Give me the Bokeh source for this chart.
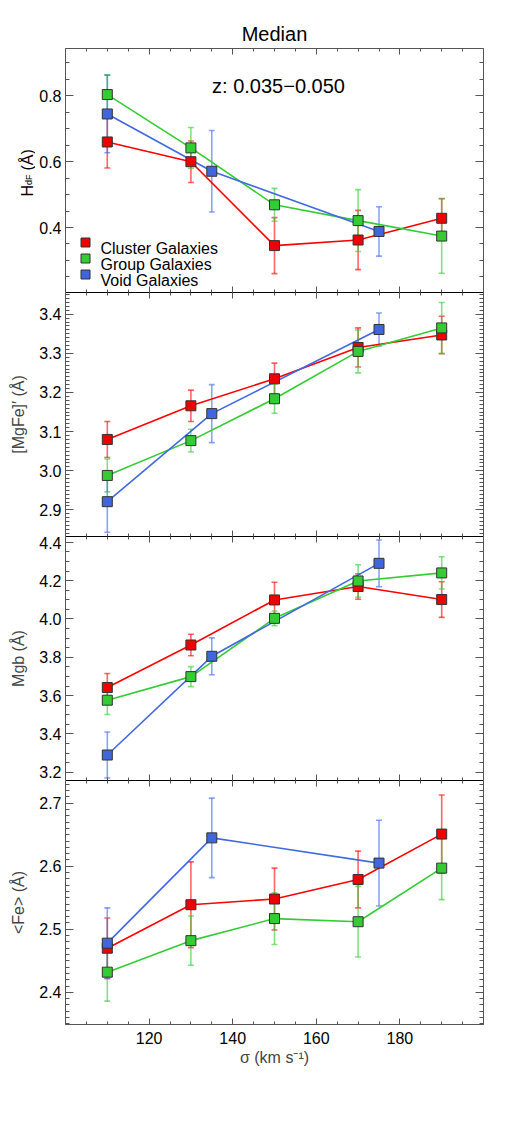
import numpy as np
from math import pi

from bokeh.plotting import figure
from bokeh.models import (ColumnDataSource, Whisker, TeeHead, FixedTicker, LinearAxis,
                          Label, BoxAnnotation, Range1d, PrintfTickFormatter,
                          CustomJSTickFormatter)
from bokeh.layouts import column, row
from bokeh.embed import file_html
from bokeh.resources import INLINE

# ---- data: velocity dispersion bins (km/s) ----
sigma_bins = [110, 130, 150, 170, 190]
sigma_void = [110, 135, 175]

# H_dF index (Å)
hdf_cluster = [0.660, 0.600, 0.345, 0.362, 0.428]
hdf_cluster_err = [0.079, 0.063, 0.085, 0.090, 0.060]
hdf_group = [0.804, 0.642, 0.469, 0.421, 0.374]
hdf_group_err = [0.060, 0.062, 0.050, 0.094, 0.113]
hdf_void = [0.745, 0.571, 0.388]
hdf_void_err = [0.118, 0.124, 0.075]

# [MgFe]' index (Å)
mgfe_cluster = [3.080, 3.166, 3.235, 3.315, 3.347]
mgfe_cluster_err = [0.046, 0.040, 0.040, 0.050, 0.048]
mgfe_group = [2.988, 3.077, 3.184, 3.305, 3.365]
mgfe_group_err = [0.042, 0.029, 0.037, 0.055, 0.065]
mgfe_void = [2.921, 3.146, 3.361]
mgfe_void_err = [0.078, 0.074, 0.042]

# Mgb index (Å)
mgb_cluster = [3.642, 3.864, 4.099, 4.169, 4.101]
mgb_cluster_err = [0.073, 0.056, 0.092, 0.066, 0.093]
mgb_group = [3.576, 3.699, 4.003, 4.198, 4.240]
mgb_group_err = [0.075, 0.052, 0.038, 0.085, 0.084]
mgb_void = [3.290, 3.805, 4.290]
mgb_void_err = [0.120, 0.096, 0.122]

# <Fe> index (Å)
fe_cluster = [2.470, 2.539, 2.548, 2.579, 2.651]
fe_cluster_err = [0.048, 0.068, 0.049, 0.045, 0.062]
fe_group = [2.432, 2.482, 2.517, 2.512, 2.597]
fe_group_err = [0.046, 0.039, 0.041, 0.056, 0.050]
fe_void = [2.478, 2.645, 2.605]
fe_void_err = [0.056, 0.063, 0.068]

x_major = [120, 140, 160, 180]
series_names = ["Cluster Galaxies", "Group Galaxies", "Void Galaxies"]

FONT = "Liberation Sans"
LINE_COLORS = ["#ff0000", "#33cc33", "#4169e1"]
FILL_COLORS = ["#ee0000", "#33cc33", "#3f66dd"]
TICK_COLOR = "#555555"
EDGE_COLOR = "#555555"

W = 532
LEFT, RIGHT = 65, 49
LABEL_STRIP = 35          # narrow strip holding the H_dF axis title
FRAME_H = 244
TOP_BORDER = 48


def ticks(lo, hi, step):
    return [round(v, 4) for v in np.arange(lo, hi + step / 2, step)]


def style_axis(ax, ticker, vertical, labels, line_color):
    ax.ticker = ticker
    ax.axis_line_color = line_color
    ax.major_tick_line_color = TICK_COLOR
    ax.minor_tick_line_color = TICK_COLOR
    ax.major_tick_out = 0
    ax.minor_tick_out = 0
    ax.major_tick_in = 8 if vertical else 6
    ax.minor_tick_in = 4 if vertical else 3
    ax.major_label_text_font = FONT
    ax.axis_label_text_font = FONT
    ax.axis_label_text_font_style = "normal"
    if labels:
        ax.major_label_text_font_size = "16px"
        ax.major_label_standoff = 4 if vertical else 7
        ax.major_label_text_color = "black"
        ax.formatter = PrintfTickFormatter(format="%.1f" if vertical else "%d")
    else:
        # tick marks only
        ax.formatter = CustomJSTickFormatter(code="return ''")
        ax.major_label_text_font_size = "1px"
        ax.major_label_standoff = 0


def make_panel(y_lo, y_hi, y_major, y_minor, panel_pos, data, ylabel, left_border=LEFT):
    top = TOP_BORDER if panel_pos == 0 else 0
    bottom = 90 if panel_pos == 3 else 0
    p = figure(width=W - (LEFT - left_border), height=FRAME_H + top + bottom,
               x_range=Range1d(100, 200), y_range=Range1d(y_lo, y_hi),
               x_axis_location=None, y_axis_location=None,
               min_border_left=left_border, min_border_right=RIGHT,
               min_border_top=top, min_border_bottom=bottom,
               toolbar_location=None, output_backend="svg")
    p.grid.visible = False
    p.outline_line_color = None
    p.background_fill_color = "white"
    p.border_fill_color = "white"

    xt = FixedTicker(ticks=x_major, minor_ticks=ticks(100, 200, 5))
    yt = FixedTicker(ticks=y_major, minor_ticks=y_minor)

    top_col = EDGE_COLOR if panel_pos == 0 else "black"
    bot_col = EDGE_COLOR if panel_pos == 3 else "black"

    left = LinearAxis()
    style_axis(left, yt, True, True, EDGE_COLOR)
    if ylabel:
        left.axis_label = ylabel
        left.axis_label_text_font_size = "16px"
        left.axis_label_standoff = 9
    p.add_layout(left, "left")

    right = LinearAxis()
    style_axis(right, yt, True, False, EDGE_COLOR)
    p.add_layout(right, "right")

    above = LinearAxis()
    style_axis(above, xt, False, False, top_col)
    p.add_layout(above, "above")

    below = LinearAxis()
    style_axis(below, xt, False, panel_pos == 3, bot_col)
    if panel_pos == 3:
        below.axis_label = "σ (km s⁻¹)"
        below.axis_label_text_font_size = "16px"
        below.axis_label_standoff = 2
    p.add_layout(below, "below")

    xs_list = [sigma_bins, sigma_bins, sigma_void]
    sources = []
    for (vals, errs), xs, col in zip(data, xs_list, LINE_COLORS):
        src = ColumnDataSource(dict(
            x=xs, y=vals,
            lo=[v - e for v, e in zip(vals, errs)],
            hi=[v + e for v, e in zip(vals, errs)]))
        sources.append(src)
        w = Whisker(source=src, base="x", lower="lo", upper="hi", dimension="height",
                    line_color=col, line_alpha=0.6, line_width=1.6, level="underlay",
                    upper_head=TeeHead(size=6, line_color=col, line_alpha=0.6, line_width=1.6),
                    lower_head=TeeHead(size=6, line_color=col, line_alpha=0.6, line_width=1.6))
        p.add_layout(w)
    for src, col in zip(sources, LINE_COLORS):
        p.line("x", "y", source=src, line_color=col, line_width=1.6)
    for src, fc in zip(sources, FILL_COLORS):
        p.scatter("x", "y", source=src, marker="square", size=10,
                  fill_color=fc, line_color="#333333", line_width=1)
    return p


p1 = make_panel(0.2025, 0.944, [0.4, 0.6, 0.8], ticks(0.25, 0.9, 0.05), 0,
                [(hdf_cluster, hdf_cluster_err), (hdf_group, hdf_group_err),
                 (hdf_void, hdf_void_err)], None, left_border=LEFT - LABEL_STRIP)
p2 = make_panel(2.832, 3.4555, ticks(2.9, 3.4, 0.1), ticks(2.84, 3.45, 0.01), 1,
                [(mgfe_cluster, mgfe_cluster_err), (mgfe_group, mgfe_group_err),
                 (mgfe_void, mgfe_void_err)], "[MgFe]′ (Å)")
p3 = make_panel(3.157, 4.43, ticks(3.2, 4.4, 0.2), ticks(3.2, 4.4, 0.05), 2,
                [(mgb_cluster, mgb_cluster_err), (mgb_group, mgb_group_err),
                 (mgb_void, mgb_void_err)], "Mgb (Å)")
p4 = make_panel(2.349, 2.736, ticks(2.4, 2.7, 0.1), ticks(2.35, 2.73, 0.01), 3,
                [(fe_cluster, fe_cluster_err), (fe_group, fe_group_err),
                 (fe_void, fe_void_err)], "<Fe> (Å)")

# title
p1.title.text = "Median"
p1.title.align = "center"
p1.title.text_font = FONT
p1.title.text_font_size = "20px"
p1.title.text_font_style = "normal"
p1.title.text_color = "black"
p1.title.standoff = 7

# redshift range
p1.add_layout(Label(x=213, y=207, x_units="screen", y_units="screen",
                    text="z: 0.035−0.050", text_align="center", text_baseline="alphabetic",
                    text_font=FONT, text_font_size="20px", text_color="black"))

# legend: swatches and names
for i, (name, fc) in enumerate(zip(series_names, FILL_COLORS)):
    cy = 50 - 16 * i
    p1.add_layout(BoxAnnotation(left=15.5, right=24.5, bottom=cy - 4.5, top=cy + 4.5,
                                left_units="screen", right_units="screen",
                                bottom_units="screen", top_units="screen",
                                fill_color=fc, fill_alpha=1, line_color="#333333",
                                line_width=1, line_alpha=1))
    p1.add_layout(Label(x=35, y=cy - 5.5, x_units="screen", y_units="screen", text=name,
                        text_align="left", text_baseline="alphabetic",
                        text_font=FONT, text_font_size="16px", text_color="black"))

# H_dF (Å) axis title, drawn in its own strip so the subscript can be sized separately
strip = figure(width=LABEL_STRIP, height=FRAME_H + TOP_BORDER,
               x_range=Range1d(0, 1), y_range=Range1d(0, 1),
               x_axis_location=None, y_axis_location=None, min_border=0,
               toolbar_location=None, output_backend="svg")
strip.grid.visible = False
strip.outline_line_color = None
label_kw = dict(x_units="screen", y_units="screen", angle=pi / 2, text_align="left",
                text_baseline="alphabetic", text_font=FONT, text_color="black")
strip.add_layout(Label(x=26.5, y=96, text="H", text_font_size="16px", **label_kw))
strip.add_layout(Label(x=28.5, y=107.5, text="dF", text_font_size="9px", **label_kw))
strip.add_layout(Label(x=26.5, y=122, text="(Å)", text_font_size="16px", **label_kw))

page = column(row(strip, p1, spacing=0), p2, p3, p4, spacing=0)
open("out.html", "w").write(file_html(page, INLINE))
